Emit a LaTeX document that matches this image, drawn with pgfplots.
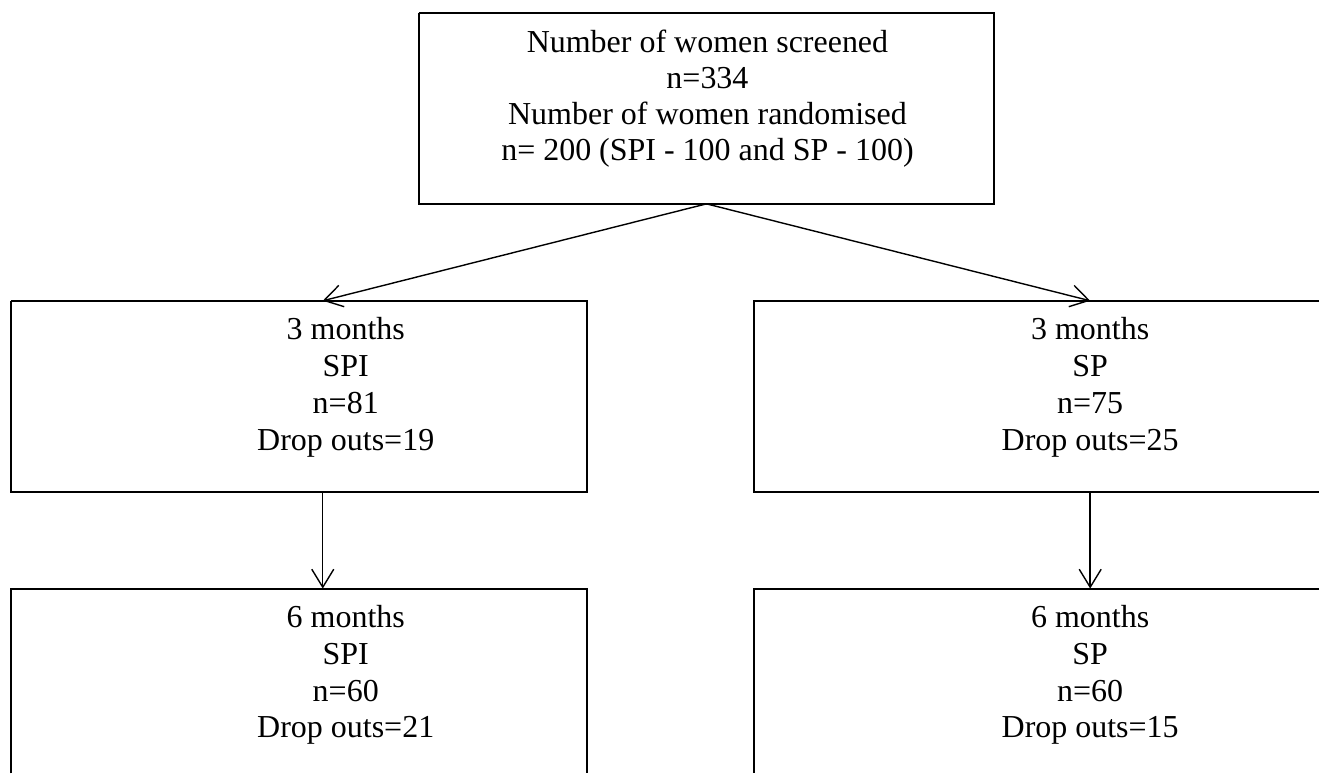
\documentclass[border=0pt]{standalone}
\usepackage{pgfplots}
\pgfplotsset{compat=1.18}
\usepackage{fontspec}
\setmainfont{Liberation Serif}
\usetikzlibrary{arrows.meta}
\begin{document}
\begin{tikzpicture}
\begin{axis}[
  width=660pt, height=387pt, scale only axis,
  xmin=0, xmax=1320, ymin=0, ymax=774, y dir=reverse,
  hide axis, clip=false,
  every axis plot/.append style={no marks, black},
]
\path (axis cs:0,0) rectangle (axis cs:1320,774);
% boxes
\addplot[line width=1pt] coordinates {(419,13) (995,13) (995,204) (419,204) (419,13)};
\addplot[line width=1pt] coordinates {(11,301) (587,301) (587,492) (11,492) (11,301)};
\addplot[line width=1pt] coordinates {(1320,301) (755,301) (755,492) (1320,492)};
\addplot[line width=1pt] coordinates {(11,774) (11,589) (587,589) (587,774)};
\addplot[line width=1pt] coordinates {(1320,589) (755,589) (755,774)};
% arrows
\addplot[line width=0.7pt, -{Straight Barb[length=9pt,width=11pt]}] coordinates {(707,204) (323,301)};
\addplot[line width=0.7pt, -{Straight Barb[length=9pt,width=11pt]}] coordinates {(707,204) (1091,301)};
\addplot[line width=0.7pt, -{Straight Barb[length=9pt,width=11pt]}] coordinates {(323,492) (323,589)};
\addplot[line width=0.7pt, -{Straight Barb[length=9pt,width=11pt]}] coordinates {(1091,492) (1091,589)};
% texts
\tikzset{t/.style={anchor=base, inner sep=0pt, font=\fontsize{16}{16}\selectfont}}
\node[t] at (axis cs:708,53) {Number of women screened};
\node[t] at (axis cs:708,89) {n=334};
\node[t] at (axis cs:708,125) {Number of women randomised};
\node[t] at (axis cs:708,161) {n= 200 (SPI - 100 and SP - 100)};
\node[t] at (axis cs:346,340) {3 months};
\node[t] at (axis cs:346,377) {SPI};
\node[t] at (axis cs:346,414) {n=81};
\node[t] at (axis cs:346,451) {Drop outs=19};
\node[t] at (axis cs:1091,340) {3 months};
\node[t] at (axis cs:1091,377) {SP};
\node[t] at (axis cs:1091,414) {n=75};
\node[t] at (axis cs:1091,451) {Drop outs=25};
\node[t] at (axis cs:346,628) {6 months};
\node[t] at (axis cs:346,665) {SPI};
\node[t] at (axis cs:346,702) {n=60};
\node[t] at (axis cs:346,738) {Drop outs=21};
\node[t] at (axis cs:1091,628) {6 months};
\node[t] at (axis cs:1091,665) {SP};
\node[t] at (axis cs:1091,702) {n=60};
\node[t] at (axis cs:1091,738) {Drop outs=15};
\end{axis}
\end{tikzpicture}
\end{document}
